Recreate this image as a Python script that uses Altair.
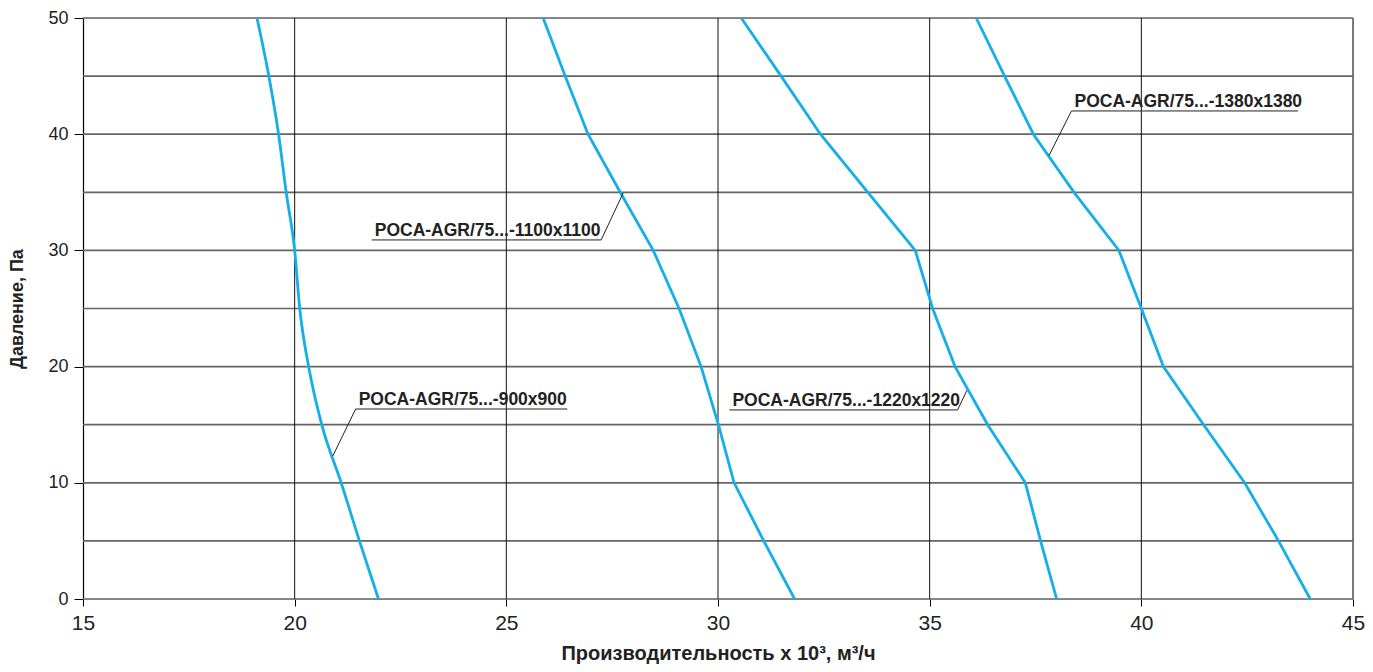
import altair as alt
import pandas as pd

# ---- data ----
pressure = [0, 5, 10, 15, 20, 25, 30, 35, 40, 45, 50]
flow_900 = [21.98, 21.53, 21.10, 20.64, 20.33, 20.12, 20.00, 19.80, 19.62, 19.39, 19.11]
flow_1100 = [31.81, 31.08, 30.38, 30.01, 29.60, 29.08, 28.47, 27.69, 26.93, 26.39, 25.87]
flow_1220 = [38.00, 37.62, 37.26, 36.37, 35.60, 35.07, 34.66, 33.54, 32.42, 31.49, 30.55]
flow_1380 = [43.99, 43.24, 42.44, 41.47, 40.52, 40.00, 39.47, 38.41, 37.45, 36.77, 36.10]
series_names = ["POCA-AGR/75...-900x900", "POCA-AGR/75...-1100x1100",
                "POCA-AGR/75...-1220x1220", "POCA-AGR/75...-1380x1380"]

# annotation anchors (data units): underline start/end, leader tip
label_x0 = [21.44, 21.82, 30.27, 38.35]
label_x1 = [26.44, 27.24, 35.66, 43.70]
label_y = [16.35, 30.90, 16.27, 42.00]
leader_from_x = [21.44, 27.24, 35.66, 38.35]
leader_to_x = [20.90, 27.76, 35.88, 37.82]
leader_to_y = [12.30, 34.94, 17.96, 38.17]

x_ticks = [15, 20, 25, 30, 35, 40, 45]
y_ticks = [0, 10, 20, 30, 40, 50]
h_grid = [0, 5, 10, 15, 20, 25, 30, 35, 40, 45, 50]
v_grid = [20, 25, 30, 35, 40]
border_x = [45]

def frame(name, flows):
    return pd.DataFrame({"series": name, "flow": flows, "p": pressure})

smooth_df = frame(series_names[0], flow_900)
kinked_df = pd.concat([frame(n, f) for n, f in zip(series_names[1:], [flow_1100, flow_1220, flow_1380])])

labels = pd.DataFrame({"name": series_names, "x0": label_x0, "x1": label_x1, "y": label_y,
                       "lx": leader_from_x, "tx": leader_to_x, "ty": leader_to_y})

xs = alt.Scale(domain=[15, 45], nice=False, zero=False)
ys = alt.Scale(domain=[0, 50], nice=False, zero=False)

X = alt.X("flow:Q", scale=xs,
          axis=alt.Axis(values=x_ticks, grid=False, domain=False, tickColor="#000000",
                        tickSize=7, tickWidth=1, labelFont="Liberation Sans Narrow, Liberation Sans",
                        labelFontSize=21, labelColor="#222222", labelPadding=6, labelFlush=False,
                        title="Производительность х 10³, м³/ч", titleFont="Liberation Sans",
                        titleFontSize=20, titleFontWeight="bold", titleColor="#222222",
                        titlePadding=10, format="d"))
Y = alt.Y("p:Q", scale=ys,
          axis=alt.Axis(values=y_ticks, grid=False, domain=True, domainColor="#000000",
                        domainWidth=1.2, tickColor="#000000", tickSize=9, tickWidth=1,
                        labelFont="Liberation Sans", labelFontSize=18, labelColor="#222222",
                        labelPadding=6, labelFlush=False, title="Давление, Па",
                        titleFont="Liberation Sans",
                        titleFontSize=18, titleFontWeight="bold", titleColor="#222222",
                        titlePadding=21, format="d"))

hgrid = alt.Chart(pd.DataFrame({"p": h_grid})).mark_rule(color="#656565", strokeWidth=1.7).encode(
    y=alt.Y("p:Q", scale=ys))
vgrid = alt.Chart(pd.DataFrame({"flow": v_grid})).mark_rule(color="#111111", strokeWidth=1).encode(
    x=alt.X("flow:Q", scale=xs))
border = alt.Chart(pd.DataFrame({"flow": border_x})).mark_rule(color="#656565", strokeWidth=1.7).encode(
    x=alt.X("flow:Q", scale=xs))

line_smooth = alt.Chart(smooth_df).mark_line(color="#14aee8", strokeWidth=2.8,
                                             interpolate="monotone").encode(
    x=X, y=Y, order="p:Q")
lines = alt.Chart(kinked_df).mark_line(color="#14aee8", strokeWidth=2.8).encode(
    x=X, y=Y, detail="series:N", order="p:Q")

underline = alt.Chart(labels).mark_rule(color="#222222", strokeWidth=1).encode(
    x=alt.X("x0:Q", scale=xs), x2="x1:Q", y=alt.Y("y:Q", scale=ys))
leader = alt.Chart(labels).mark_rule(color="#222222", strokeWidth=1).encode(
    x=alt.X("lx:Q", scale=xs), x2="tx:Q", y=alt.Y("y:Q", scale=ys), y2="ty:Q")
text = alt.Chart(labels).mark_text(align="left", baseline="alphabetic", dx=3, dy=-4,
                                   font="Liberation Sans", fontSize=17.5, fontWeight="bold",
                                   color="#222222").encode(
    x=alt.X("x0:Q", scale=xs), y=alt.Y("y:Q", scale=ys), text="name:N")

chart = alt.layer(hgrid, vgrid, border, line_smooth, lines, underline, leader, text).properties(
    width=1270, height=581,
    autosize=alt.AutoSizeParams(type="none"),
    padding={"left": 75, "top": 10, "right": 12, "bottom": 65},
).configure_view(stroke=None).configure(background="white")

chart.save("out.html", embed_options={"renderer": "svg", "actions": False})
